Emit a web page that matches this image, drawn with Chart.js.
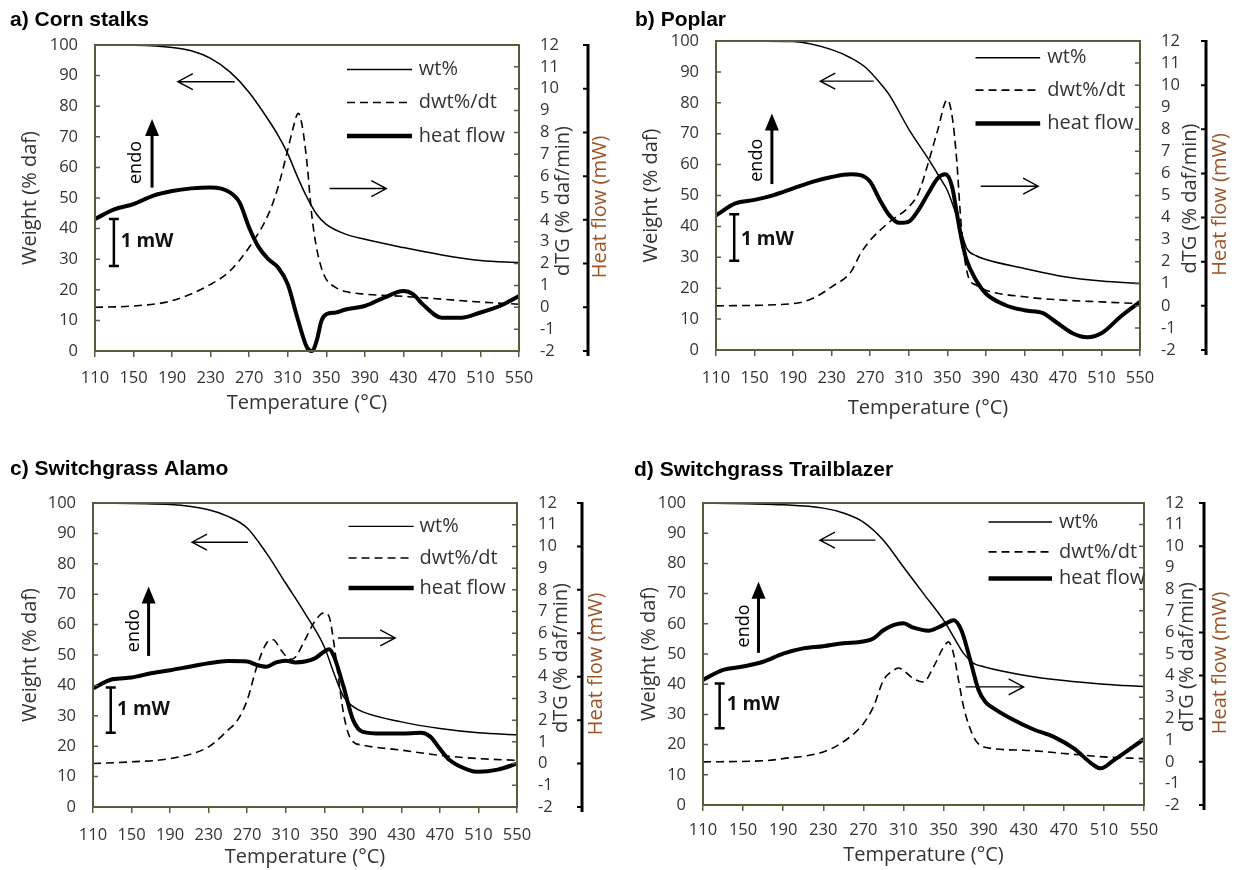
<!DOCTYPE html>
<html lang="en">
<head>
<meta charset="UTF-8">
<title>TGA / DSC curves of four biomasses</title>
<script src="https://cdn.jsdelivr.net/npm/chart.js"></script>
<style>
  body { margin: 0; background: #fff; }
  #wrap { position: relative; width: 1244px; height: 870px; }
  canvas { position: absolute; }
</style>
</head>
<body>
<div id="wrap">
  <canvas id="cA" width="620" height="435" style="left:0;top:0"></canvas>
  <canvas id="cB" width="624" height="435" style="left:620px;top:0"></canvas>
  <canvas id="cC" width="620" height="435" style="left:0;top:435px"></canvas>
  <canvas id="cD" width="624" height="435" style="left:620px;top:435px"></canvas>
</div>
<script>
// tick labels
const tempTicks = [110, 150, 190, 230, 270, 310, 350, 390, 430, 470, 510, 550];
const weightTicks = [0, 10, 20, 30, 40, 50, 60, 70, 80, 90, 100];
const dtgTicks = [-2, -1, 0, 1, 2, 3, 4, 5, 6, 7, 8, 9, 10, 11, 12];
const heatTicks = [0, 1, 2, 3, 4, 5, 6, 7];

// a) corn stalks  [temperature °C, value]
const cornWt = [[110,100],[150,99.9],[190,99.2],[210,98.1],[230,95.6],[250,91.2],[270,84.5],[290,75.5],[300,70.5],[310,64.5],[320,57],[330,50.2],[340,44.7],[350,41.4],[370,38.2],[390,36.5],[430,33.8],[470,31.4],[510,29.6],[550,28.9]];
const cornDtg = [[110,0],[150,0.06],[190,0.3],[230,1.05],[250,1.66],[270,2.75],[290,4.26],[300,5.5],[310,7.2],[315,8.1],[321,8.87],[325,8.3],[330,6.6],[335,4.2],[340,2.7],[345,1.8],[350,1.28],[360,0.9],[370,0.72],[390,0.6],[430,0.5],[470,0.37],[510,0.24],[550,0.14]];
const cornHeat = [[110,3.02],[130,3.24],[150,3.36],[170,3.55],[190,3.66],[210,3.72],[230,3.74],[250,3.63],[260,3.4],[270,2.82],[280,2.37],[290,2.1],[300,1.91],[310,1.53],[320,0.76],[330,0.08],[335,0],[340,0.23],[345,0.69],[350,0.84],[360,0.88],[370,0.95],[390,1.03],[410,1.22],[430,1.37],[440,1.3],[450,1.07],[470,0.76],[490,0.76],[510,0.88],[530,1.03],[550,1.26]];

// b) poplar
const poplarWt = [[110,100],[190,99.8],[230,97.2],[250,94.5],[265,91.5],[280,86.5],[290,82.5],[310,71.5],[330,62],[345,54.4],[350,51.7],[360,43],[365,37.7],[370,33],[380,30.5],[390,29.3],[430,26.4],[470,23.8],[510,22.3],[550,21.6]];
const poplarDtg = [[110,0],[190,0.1],[210,0.33],[230,0.86],[250,1.54],[260,2.37],[270,2.97],[290,3.8],[310,4.48],[320,5.1],[330,6.44],[340,7.95],[350,9.34],[355,8.6],[360,6.5],[363,4.5],[367,2.5],[372,1.3],[380,0.94],[390,0.71],[430,0.41],[470,0.26],[510,0.18],[550,0.1]];
const poplarHeat = [[110,3.05],[130,3.32],[150,3.4],[170,3.51],[190,3.66],[210,3.81],[230,3.92],[250,3.98],[260,3.96],[270,3.81],[280,3.4],[290,3.05],[300,2.88],[310,2.91],[320,3.17],[330,3.54],[340,3.89],[348,3.98],[355,3.7],[360,3.09],[365,2.49],[370,2.04],[380,1.58],[390,1.28],[410,1.02],[430,0.9],[450,0.83],[460,0.68],[480,0.38],[495,0.29],[510,0.38],[530,0.76],[550,1.09]];

// c) switchgrass Alamo
const alamoWt = [[110,100],[190,99.5],[230,97.8],[250,95.6],[270,91.8],[290,83.5],[310,73.6],[330,63.7],[350,52.7],[360,44],[370,36.3],[380,33],[390,31.3],[430,28],[470,25.8],[510,24.4],[550,23.8]];
const alamoDtg = [[110,0],[150,0.08],[190,0.23],[230,0.77],[250,1.54],[260,2],[270,2.92],[280,4.46],[290,5.54],[297,5.7],[305,5.23],[315,4.8],[320,4.9],[330,5.7],[340,6.54],[350,6.95],[355,6.77],[360,5.54],[365,3.85],[370,2.3],[375,1.38],[380,1],[390,0.85],[430,0.62],[470,0.38],[510,0.23],[550,0.15]];
const alamoHeat = [[110,2.73],[130,2.94],[150,2.98],[170,3.08],[190,3.15],[210,3.23],[230,3.31],[250,3.36],[270,3.35],[280,3.27],[290,3.23],[300,3.33],[310,3.37],[320,3.33],[330,3.35],[340,3.42],[350,3.58],[355,3.63],[360,3.47],[370,2.77],[380,2],[390,1.73],[410,1.69],[430,1.69],[450,1.71],[460,1.62],[470,1.34],[480,1.08],[500,0.85],[510,0.81],[530,0.86],[550,1]];

// d) switchgrass Trailblazer
const trailWt = [[110,100],[190,99.4],[230,98.3],[250,96.7],[270,93.7],[290,87.7],[310,78.8],[330,70],[350,61.2],[360,55.7],[370,50.2],[380,46.9],[390,45.8],[430,43],[470,41.2],[510,40],[550,39.2]];
const trailDtg = [[110,0],[170,0.05],[190,0.15],[230,0.46],[250,0.93],[270,1.77],[280,2.55],[290,3.78],[300,4.24],[305,4.35],[310,4.24],[320,3.86],[330,3.7],[340,4.4],[350,5.32],[355,5.56],[360,5],[365,3.78],[370,2.55],[380,1.16],[390,0.69],[430,0.54],[470,0.39],[510,0.23],[550,0.15]];
const trailHeat = [[110,2.9],[130,3.13],[150,3.21],[170,3.32],[190,3.51],[210,3.63],[230,3.68],[250,3.75],[270,3.79],[280,3.86],[290,4.05],[300,4.17],[310,4.21],[320,4.11],[335,4.04],[345,4.12],[355,4.24],[360,4.28],[368,4.04],[375,3.5],[385,2.66],[392,2.38],[400,2.24],[420,1.97],[440,1.75],[460,1.58],[480,1.31],[500,0.92],[507,0.85],[520,1.04],[550,1.53]];

const AXIS = '#5e5a3c';
const TXT = '#333';
const FONT = '"Open Sans", "DejaVu Sans", sans-serif';

// layout of each panel (canvas px) and annotation anchors (data units)
const panels = [
  { id: 'cA', title: 'a) Corn stalks', wt: cornWt, dtg: cornDtg, heat: cornHeat,
    geo: { l: 95, r: 519, t: 45, b: 351, heat: 588, dtgX: 563, heatX: 600, yTitle: 18.5, xTitlePad: 20, xLab: 11, titleX: 10, titleY: 26 },
    notes: { la: [88, 255, 196], ra: [53.1, 353.5, 412.3], endo: [152.9, 61.6], up: [169.2, 53.4, 75.8], bar: [129.6, 43.1, 27.8], mw: [136.6, 35.8], leg: [371.5, 439, 446, 92, 81.2, 70.3] } },
  { id: 'cB', title: 'b) Poplar', wt: poplarWt, dtg: poplarDtg, heat: poplarHeat,
    geo: { l: 96, r: 520, t: 41, b: 350, heat: 586, dtgX: 570, heatX: 600, yTitle: 19, xTitlePad: 15, xLab: 12, titleX: 15, titleY: 26 },
    notes: { la: [87, 273.7, 218.2], ra: [53, 384.7, 444.3], endo: [152.4, 61.4], up: [168, 53.7, 76.5], bar: [128.9, 43.9, 28.9], mw: [135.9, 35.8], leg: [379.3, 446.4, 453.8, 94.6, 84.1, 73.3] } },
  { id: 'cC', title: 'c) Switchgrass Alamo', wt: alamoWt, dtg: alamoDtg, heat: alamoHeat,
    geo: { l: 93, r: 517, t: 68, b: 372, heat: 582, dtgX: 561, heatX: 596, yTitle: 18, xTitlePad: 1, xLab: 12, titleX: 10, titleY: 40 },
    notes: { la: [87.1, 270.9, 212.8], ra: [55.6, 364.2, 423.6], endo: [152.2, 58], up: [167.7, 49.7, 72.5], bar: [128.4, 39.3, 24.4], mw: [135, 31.9], leg: [375.2, 442.8, 448.9, 92.3, 81.9, 72] } },
  { id: 'cD', title: 'd) Switchgrass Trailblazer', wt: trailWt, dtg: trailDtg, heat: trailHeat,
    geo: { l: 83, r: 524, t: 68, b: 370, heat: 584, dtgX: 567, heatX: 600, yTitle: 17, xTitlePad: 3, xLab: 9, titleX: 14, titleY: 41 },
    notes: { la: [87.7, 282.1, 226.7], ra: [39.1, 372, 429.9], endo: [150.4, 59.3], up: [165.4, 50.4, 73.9], bar: [126.6, 40.2, 25.4], mw: [133.7, 33.1], leg: [394.9, 458.2, 465.3, 93.7, 83.8, 75] } }
];

function vText(ctx, txt, x, y, font, color) {
  ctx.save();
  ctx.translate(x, y);
  ctx.rotate(-Math.PI / 2);
  ctx.font = font;
  ctx.fillStyle = color;
  ctx.textAlign = 'center';
  ctx.textBaseline = 'middle';
  ctx.fillText(txt, 0, 0);
  ctx.restore();
}

function openArrow(ctx, x1, x2, y) {
  const dir = Math.sign(x2 - x1);
  ctx.beginPath();
  ctx.moveTo(x1, y); ctx.lineTo(x2, y);
  ctx.moveTo(x2 - dir * 15, y - 8); ctx.lineTo(x2, y); ctx.lineTo(x2 - dir * 15, y + 8);
  ctx.stroke();
}

function makeDecor(pn) {
  return {
    id: 'decor',
    afterDraw(chart) {
      const ctx = chart.ctx, a = chart.chartArea, g = pn.geo, n = pn.notes;
      const sx = chart.scales.x, sy = chart.scales.y, s2 = chart.scales.y2, sh = chart.scales.yH;
      const X = v => sx.getPixelForValue(v), Y = v => sy.getPixelForValue(v);
      ctx.save();
      // frame and inward ticks
      ctx.strokeStyle = AXIS;
      ctx.lineWidth = 2;
      ctx.strokeRect(a.left, a.top, a.right - a.left, a.bottom - a.top);
      ctx.lineWidth = 1.5;
      ctx.beginPath();
      sy.ticks.forEach(t => { const y = sy.getPixelForValue(t.value); ctx.moveTo(a.left, y); ctx.lineTo(a.left + 5, y); });
      s2.ticks.forEach(t => { const y = s2.getPixelForValue(t.value); ctx.moveTo(a.right, y); ctx.lineTo(a.right - 5, y); });
      ctx.stroke();
      // heat flow axis
      const hx = sh.left;
      ctx.strokeStyle = '#000';
      ctx.lineWidth = 3;
      ctx.beginPath();
      ctx.moveTo(hx, sh.getPixelForValue(7) - 1);
      ctx.lineTo(hx, sh.getPixelForValue(0) + 5);
      ctx.stroke();
      ctx.lineWidth = 2;
      ctx.beginPath();
      sh.ticks.forEach(t => { const y = sh.getPixelForValue(t.value); ctx.moveTo(hx, y); ctx.lineTo(hx - 5, y); });
      ctx.stroke();
      // right-hand titles
      const midY = (a.top + a.bottom) / 2;
      vText(ctx, 'dTG (% daf/min)', g.dtgX, midY + 3, '20px ' + FONT, TXT);
      vText(ctx, 'Heat flow (mW)', g.heatX, midY + 9, '20px ' + FONT, '#9a5429');
      // panel title
      ctx.font = 'bold 21px "Liberation Sans", Arial, sans-serif';
      ctx.fillStyle = '#000';
      ctx.textAlign = 'left';
      ctx.textBaseline = 'alphabetic';
      ctx.fillText(pn.title, g.titleX, g.titleY);
      // legend
      const lg = n.leg;
      const styles = [[1.4, []], [1.6, [8, 5]], [4.5, []]];
      const names = ['wt%', 'dwt%/dt', 'heat flow'];
      ctx.strokeStyle = '#000';
      ctx.font = '20px ' + FONT;
      ctx.fillStyle = TXT;
      ctx.textBaseline = 'middle';
      names.forEach((nm, i) => {
        const y = Y(lg[3 + i]);
        ctx.lineWidth = styles[i][0];
        ctx.setLineDash(styles[i][1]);
        ctx.beginPath(); ctx.moveTo(X(lg[0]), y); ctx.lineTo(X(lg[1]), y); ctx.stroke();
        ctx.fillText(nm, X(lg[2]), y);
      });
      ctx.setLineDash([]);
      // direction arrows
      ctx.lineWidth = 1.4;
      openArrow(ctx, X(n.la[1]), X(n.la[2]), Y(n.la[0]));
      openArrow(ctx, X(n.ra[1]), X(n.ra[2]), Y(n.ra[0]));
      // endo arrow
      const ux = X(n.up[0]), uy1 = Y(n.up[1]), uy2 = Y(n.up[2]);
      ctx.lineWidth = 3;
      ctx.beginPath(); ctx.moveTo(ux, uy1); ctx.lineTo(ux, uy2 + 10); ctx.stroke();
      ctx.fillStyle = '#000';
      ctx.beginPath(); ctx.moveTo(ux, uy2); ctx.lineTo(ux - 7, uy2 + 17); ctx.lineTo(ux + 7, uy2 + 17); ctx.closePath(); ctx.fill();
      vText(ctx, 'endo', X(n.endo[0]), Y(n.endo[1]), '18px ' + FONT, '#000');
      // 1 mW scale bar
      const bx = X(n.bar[0]), by1 = Y(n.bar[1]), by2 = Y(n.bar[2]);
      ctx.lineWidth = 2.5;
      ctx.beginPath();
      ctx.moveTo(bx, by1); ctx.lineTo(bx, by2);
      ctx.moveTo(bx - 5, by1); ctx.lineTo(bx + 5, by1);
      ctx.moveTo(bx - 5, by2); ctx.lineTo(bx + 5, by2);
      ctx.stroke();
      ctx.font = 'bold 19px ' + FONT;
      ctx.fillStyle = '#111';
      ctx.textAlign = 'left';
      ctx.fillText('1 mW', X(n.mw[0]), Y(n.mw[1]));
      ctx.restore();
    }
  };
}

const toXY = arr => arr.map(p => ({ x: p[0], y: p[1] }));

panels.forEach(pn => {
  const cv = document.getElementById(pn.id);
  const W = cv.width, H = cv.height, g = pn.geo;
  const tickFont = { family: FONT, size: 16.5 };
  const titleFont = { family: FONT, size: 20 };
  new Chart(cv.getContext('2d'), {
    type: 'line',
    data: {
      datasets: [
        { label: 'wt%', data: toXY(pn.wt), yAxisID: 'y', borderColor: '#000', borderWidth: 1.5, pointRadius: 0, fill: false, cubicInterpolationMode: 'monotone' },
        { label: 'dwt%/dt', data: toXY(pn.dtg), yAxisID: 'y2', borderColor: '#000', borderWidth: 1.6, borderDash: [8, 5], pointRadius: 0, fill: false, cubicInterpolationMode: 'monotone' },
        { label: 'heat flow', data: toXY(pn.heat), yAxisID: 'yH', borderColor: '#000', borderWidth: 4, pointRadius: 0, fill: false, cubicInterpolationMode: 'monotone', clip: 8 }
      ]
    },
    options: {
      responsive: false,
      animation: false,
      layout: { padding: { left: 0, right: 0, top: g.t, bottom: 0 } },
      plugins: { legend: { display: false }, tooltip: { enabled: false } },
      scales: {
        x: {
          type: 'linear', position: 'bottom', min: 110, max: 550,
          afterBuildTicks: s => { s.ticks = tempTicks.map(v => ({ value: v })); },
          afterFit: s => { s.height = H - g.b; },
          ticks: { font: tickFont, color: TXT, padding: g.xLab, autoSkip: false, maxRotation: 0 },
          grid: { drawOnChartArea: false, drawTicks: true, tickLength: 6, color: AXIS, lineWidth: 1.5 },
          border: { display: false },
          title: { display: true, text: 'Temperature (°C)', font: titleFont, color: TXT, padding: { top: 0, bottom: g.xTitlePad } }
        },
        y: {
          position: 'left', min: 0, max: 100,
          afterBuildTicks: s => { s.ticks = weightTicks.map(v => ({ value: v })); },
          afterFit: s => { s.width = g.l; },
          ticks: { font: tickFont, color: TXT, padding: 17, autoSkip: false },
          grid: { display: false, drawTicks: false },
          border: { display: false },
          title: { display: true, text: 'Weight (% daf)', font: titleFont, color: TXT, padding: { top: g.yTitle, bottom: 0 } }
        },
        y2: {
          position: 'right', min: -2, max: 12, weight: 0,
          afterBuildTicks: s => { s.ticks = dtgTicks.map(v => ({ value: v })); },
          afterFit: s => { s.width = g.heat - g.r; },
          ticks: { font: tickFont, color: TXT, padding: 21, autoSkip: false },
          grid: { display: false, drawTicks: false },
          border: { display: false }
        },
        yH: {
          position: 'right', min: 0, max: 7, weight: 1,
          afterBuildTicks: s => { s.ticks = heatTicks.map(v => ({ value: v })); },
          afterFit: s => { s.width = W - g.heat; },
          ticks: { display: false },
          grid: { display: false, drawTicks: false },
          border: { display: false }
        }
      }
    },
    plugins: [makeDecor(pn)]
  });
});
</script>
</body>
</html>
